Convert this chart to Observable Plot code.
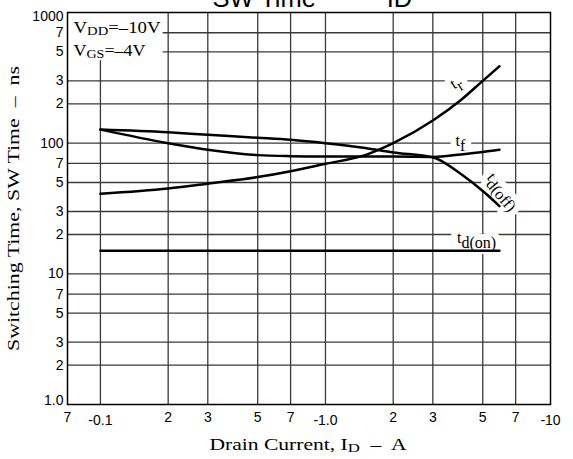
<!DOCTYPE html>
<html>
<head>
<meta charset="utf-8">
<script src="https://cdn.jsdelivr.net/npm/d3@7"></script>
<script src="https://cdn.jsdelivr.net/npm/@observablehq/plot@0.6"></script>
<style>
  html, body { margin: 0; padding: 0; background: white; }
  svg { display: block; }
</style>
</head>
<body>
<div id="chart"></div>
<script>
// ---- data ----
const xGrid = [0.1, 0.2, 0.3, 0.5, 0.7, 1, 2, 3, 5, 7];
const yGrid = [700, 500, 300, 200, 100, 70, 50, 30, 20, 10, 7, 5, 3, 2];

const xMinorTicks = [0.0714, 0.2, 0.3, 0.5, 0.7, 2, 3, 5, 7];
const xMinorLabels = ["7", "2", "3", "5", "7", "2", "3", "5", "7"];
const xMajorTicks = [0.1, 1, 10];
const xMajorLabels = ["-0.1", "-1.0", "-10"];

const yTicks = [700, 500, 300, 200, 100, 70, 50, 30, 20, 10, 7, 5, 3, 2];
const yLabels = ["7", "5", "3", "2", "100", "7", "5", "3", "2", "10", "7", "5", "3", "2"];
const yTopTick = [1000], yTopLabel = ["1000"];
const yBottomTick = [1], yBottomLabel = ["1.0"];

const trX = [0.1, 0.2, 0.3, 0.5, 0.7, 1, 1.5, 2, 3, 4, 5, 5.93];
const trY = [41, 45, 49, 55, 61, 69.5, 81, 100, 149, 214, 300, 388];
const tfX = [0.1, 0.2, 0.3, 0.5, 0.7, 1, 2, 3, 4, 5, 5.93];
const tfY = [127, 100, 89, 81, 79.5, 79, 79, 78.5, 82, 85.5, 89];
const tdoffX = [0.1, 0.2, 0.3, 0.5, 0.7, 1, 1.5, 2, 3, 4, 5, 5.93];
const tdoffY = [127, 121, 116, 110, 106, 100, 92, 85, 78, 58, 43, 33];
const tdonX = [0.1, 5.93];
const tdonY = [15, 15];

const labelText = ["t~{r}", "t~{f}", "t~{d(off)}", "t~{d(on)}"];
const labelX = [3.78, 3.98, 6.18, 4.69];
const labelY = [291, 105, 43.4, 19];
const labelRotate = [-32, 0, 50, 0];

const legendLines = ["V_{DD}=–10V", "V_{GS}=–4V"];
const titleText = "SW Time          ID";
const xTitle = "Drain Current, I_{D}  –  A";
const yTitle = "Switching Time, SW Time  –  ns";

// ---- build ----
const seriesList = [
  {name: "tr", xs: trX, ys: trY},
  {name: "tf", xs: tfX, ys: tfY},
  {name: "td(off)", xs: tdoffX, ys: tdoffY},
  {name: "td(on)", xs: tdonX, ys: tdonY}
];
const rows = seriesList.flatMap(s => s.xs.map((x, i) => ({s: s.name, x, y: s.ys[i]})));
const labels = labelText.map((t, i) => ({t, x: labelX[i], y: labelY[i], r: labelRotate[i]}));

const serif = "Liberation Serif, Times New Roman, serif";
const sans = "Liberation Sans, Arial, sans-serif";
const gridColor = "#3a3a3a";
const tickFont = 14;

const labelOpts = {x: "x", y: "y", text: "t", rotate: "r", fontFamily: serif, fontSize: 16,
  textAnchor: "middle", lineAnchor: "middle"};

const chart = Plot.plot({
  width: 573, height: 459,
  marginLeft: 67, marginRight: 23, marginTop: 12, marginBottom: 55,
  x: {type: "log", domain: [0.0714, 10], axis: null},
  y: {type: "log", domain: [1, 1000], axis: null},
  style: {fontFamily: sans, background: "white", color: "black"},
  marks: [
    Plot.ruleY(yGrid, {stroke: gridColor, strokeWidth: 1.3}),
    Plot.ruleX(xGrid, {stroke: gridColor, strokeWidth: 1.3}),
    Plot.rect([0], {x1: 0.0714, x2: 0.19, y1: 428, y2: 1000, fill: "white"}),
    // halo behind curve labels (white), then the labels themselves
    Plot.text(labels, {...labelOpts, fill: "white", stroke: "white", strokeWidth: 12}),
    Plot.text(labels, {...labelOpts, fill: "black"}),
    Plot.frame({stroke: "black", strokeWidth: 1.5}),
    Plot.line(rows, {x: "x", y: "y", z: "s", stroke: "black", strokeWidth: 2.5, curve: "monotone-x"}),
    // y tick labels
    Plot.text(yTicks, {y: d => d, text: (d, i) => yLabels[i], frameAnchor: "left", textAnchor: "end", dx: -4, fontSize: tickFont}),
    Plot.text(yTopTick, {y: d => d, text: (d, i) => yTopLabel[i], frameAnchor: "left", textAnchor: "end", dx: -4, dy: 4, fontSize: tickFont}),
    Plot.text(yBottomTick, {y: d => d, text: (d, i) => yBottomLabel[i], frameAnchor: "left", textAnchor: "end", dx: -4, dy: -4, fontSize: tickFont}),
    // x tick labels
    Plot.text(xMinorTicks, {x: d => d, text: (d, i) => xMinorLabels[i], frameAnchor: "bottom", lineAnchor: "top", dy: 7.5, fontSize: tickFont}),
    Plot.text(xMajorTicks, {x: d => d, text: (d, i) => xMajorLabels[i], frameAnchor: "bottom", lineAnchor: "top", dy: 10.5, fontSize: tickFont}),
    // titles
    Plot.text([titleText], {frameAnchor: "top-left", dx: 145, dy: -6, textAnchor: "start", lineAnchor: "bottom", fontSize: 25.5, fontFamily: sans}),
    Plot.text([legendLines[0]], {frameAnchor: "top-left", dx: 6, dy: 20, textAnchor: "start", lineAnchor: "bottom", fontSize: 16, fontFamily: serif}),
    Plot.text([legendLines[1]], {frameAnchor: "top-left", dx: 6, dy: 43, textAnchor: "start", lineAnchor: "bottom", fontSize: 16, fontFamily: serif}),
    Plot.text([xTitle], {frameAnchor: "bottom", dx: -1, dy: 45, textAnchor: "middle", lineAnchor: "bottom", fontSize: 16, fontFamily: serif}),
    Plot.text([yTitle], {frameAnchor: "left", dx: -48.7, dy: 0, rotate: -90, textAnchor: "middle", lineAnchor: "bottom", fontSize: 16, fontFamily: serif})
  ]
});

// ---- subscripts & stretched serif text ----
const stretch = {};
stretch[xTitle] = 197;
stretch[yTitle] = 285;
stretch[legendLines[0]] = 87;
stretch[legendLines[1]] = 72;
const SVGNS = "http://www.w3.org/2000/svg";
chart.querySelectorAll("text").forEach(t => {
  const raw = t.textContent;
  const hasMark = /[_~]\{/.test(raw);
  if (hasMark) {
    const parts = raw.split(/([_~]\{[^}]*\})/).filter(Boolean);
    t.textContent = "";
    let shift = 0;
    for (const p of parts) {
      const ts = document.createElementNS(SVGNS, "tspan");
      let target = 0, small = false;
      if (p.startsWith("_{")) { target = 2; small = true; ts.textContent = p.slice(2, -1); }
      else if (p.startsWith("~{")) { target = 5; ts.textContent = p.slice(2, -1); }
      else ts.textContent = p;
      if (target !== shift) { ts.setAttribute("dy", target - shift); shift = target; }
      if (small) ts.style.fontSize = "0.78em";
      t.appendChild(ts);
    }
  }
  if (raw in stretch) {
    t.setAttribute("textLength", stretch[raw]);
    t.setAttribute("lengthAdjust", "spacingAndGlyphs");
  }
});

document.getElementById("chart").appendChild(chart);
</script>
</body>
</html>
